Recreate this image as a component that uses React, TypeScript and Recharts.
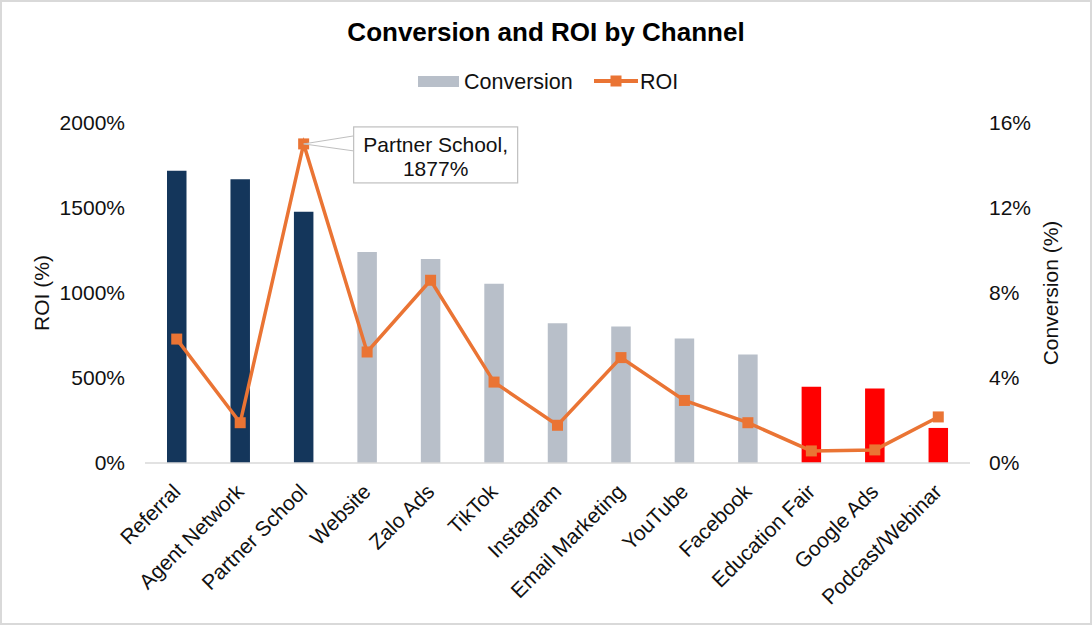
import { Bar, Cell, ComposedChart, Label, Line, XAxis, YAxis } from 'recharts';

const CHANNELS = [
  'Referral',
  'Agent Network',
  'Partner School',
  'Website',
  'Zalo Ads',
  'TikTok',
  'Instagram',
  'Email Marketing',
  'YouTube',
  'Facebook',
  'Education Fair',
  'Google Ads',
  'Podcast/Webinar',
];
// conversion rate in %, right axis
const CONVERSION = [13.75, 13.35, 11.82, 9.93, 9.6, 8.43, 6.58, 6.42, 5.86, 5.11, 3.59, 3.51, 1.65];
// ROI in %, left axis
const ROI = [729, 237, 1877, 653, 1075, 476, 222, 620, 368, 237, 71, 77, 271];
const TIER = ['top', 'top', 'top', 'mid', 'mid', 'mid', 'mid', 'mid', 'mid', 'mid', 'low', 'low', 'low'];
const ROI_TICKS = [0, 500, 1000, 1500, 2000];
const CONV_TICKS = [0, 4, 8, 12, 16];
const CALLOUT_INDEX = 2;

const TIER_COLORS: Record<string, string> = { top: '#14365B', mid: '#B8BFC9', low: '#FF0000' };
const ORANGE = '#EA7434';
const FONT = '"Liberation Sans", Arial, sans-serif';

const data = CHANNELS.map((name, i) => ({ name, conversion: CONVERSION[i], roi: ROI[i] }));

function ChannelTick({ x, y, payload }: any) {
  const tx = x + 5;
  const ty = y + 30;
  return (
    <text
      x={tx}
      y={ty}
      transform={`rotate(-45 ${tx} ${ty})`}
      textAnchor="end"
      fontSize={21}
      fontFamily={FONT}
      fill="#111"
    >
      {payload.value}
    </text>
  );
}

function SquareDot({ cx, cy, index }: any) {
  return <rect key={`dot-${index}`} x={cx - 5.5} y={cy - 5.5} width={11} height={11} fill={ORANGE} />;
}

function Callout(props: any) {
  const { x, y, value } = props;
  if (value !== ROI[CALLOUT_INDEX]) return null;
  const bx = x + 50;
  const by = y - 17;
  return (
    <g>
      <polygon points={`${x},${y} ${bx},${y - 8} ${bx},${y + 7}`} fill="#fff" stroke="#BFBFBF" strokeWidth={1} />
      <rect x={bx} y={by} width={164} height={56} fill="#fff" stroke="#BFBFBF" strokeWidth={1.2} />
      <text x={bx + 82} y={by + 25} textAnchor="middle" fontSize={21} fontFamily={FONT} fill="#111">
        {CHANNELS[CALLOUT_INDEX]},
      </text>
      <text x={bx + 82} y={by + 49} textAnchor="middle" fontSize={21} fontFamily={FONT} fill="#111">
        {value}%
      </text>
    </g>
  );
}

export default function App() {
  return (
    <div style={{ position: 'fixed', left: 0, top: 0, width: 1092, height: 625, background: '#fff' }}>
      <ComposedChart width={1092} height={625} data={data} margin={{ top: 123, right: 0, bottom: 22, left: 0 }}>
        <XAxis
          dataKey="name"
          interval={0}
          height={140}
          tickSize={0}
          tickMargin={0}
          tick={<ChannelTick />}
          axisLine={{ stroke: '#D9D9D9', strokeWidth: 1.5 }}
          tickLine={false}
        />
        <YAxis
          yAxisId="roi"
          orientation="left"
          width={145}
          domain={[0, 2000]}
          ticks={ROI_TICKS}
          tickFormatter={(v) => `${v}%`}
          axisLine={false}
          tickLine={false}
          tickSize={0}
          tickMargin={20}
          tick={{ fontSize: 21, fontFamily: FONT, fill: '#111' }}
        >
          <Label
            content={({ viewBox }: any) => {
              const cx = viewBox.x + 42;
              const cy = viewBox.y + viewBox.height / 2;
              return (
                <text x={cx} y={cy} transform={`rotate(-90 ${cx} ${cy})`} textAnchor="middle" dy="0.35em"
                  fontSize={21} fontFamily={FONT} fill="#111">
                  ROI (%)
                </text>
              );
            }}
          />
        </YAxis>
        <YAxis
          yAxisId="conv"
          orientation="right"
          width={122}
          domain={[0, 16]}
          ticks={CONV_TICKS}
          tickFormatter={(v) => `${v}%`}
          axisLine={false}
          tickLine={false}
          tickSize={0}
          tickMargin={19}
          tick={{ fontSize: 21, fontFamily: FONT, fill: '#111', textAnchor: 'start' }}
        >
          <Label
            content={({ viewBox }: any) => {
              const cx = viewBox.x + 81;
              const cy = viewBox.y + viewBox.height / 2;
              return (
                <text x={cx} y={cy} transform={`rotate(-90 ${cx} ${cy})`} textAnchor="middle" dy="0.35em"
                  fontSize={21} fontFamily={FONT} fill="#111">
                  Conversion (%)
                </text>
              );
            }}
          />
        </YAxis>
        <Bar yAxisId="conv" dataKey="conversion" barSize={19.5} isAnimationActive={false}>
          {data.map((d, i) => (
            <Cell key={d.name} fill={TIER_COLORS[TIER[i]]} />
          ))}
        </Bar>
        <Line
          yAxisId="roi"
          dataKey="roi"
          stroke={ORANGE}
          strokeWidth={3.5}
          dot={<SquareDot />}
          activeDot={false}
          label={<Callout />}
          isAnimationActive={false}
        />
      </ComposedChart>
      <svg width={1092} height={100} style={{ position: 'absolute', left: 0, top: 0 }}>
        <text x={546} y={41} textAnchor="middle" fontSize={26} fontWeight="bold" fontFamily={FONT} fill="#000">
          Conversion and ROI by Channel
        </text>
        <rect x={418} y={76} width={41} height={11} fill={TIER_COLORS.mid} />
        <text x={464} y={88.5} fontSize={21.5} fontFamily={FONT} fill="#111">Conversion</text>
        <line x1={594} y1={81} x2={638} y2={81} stroke={ORANGE} strokeWidth={4} />
        <rect x={610.5} y={75.5} width={11} height={11} fill={ORANGE} />
        <text x={640} y={88.5} fontSize={21.5} fontFamily={FONT} fill="#111">ROI</text>
      </svg>
      <div
        style={{
          position: 'absolute',
          inset: 0,
          border: '2px solid #D9D9D9',
          pointerEvents: 'none',
        }}
      />
    </div>
  );
}
